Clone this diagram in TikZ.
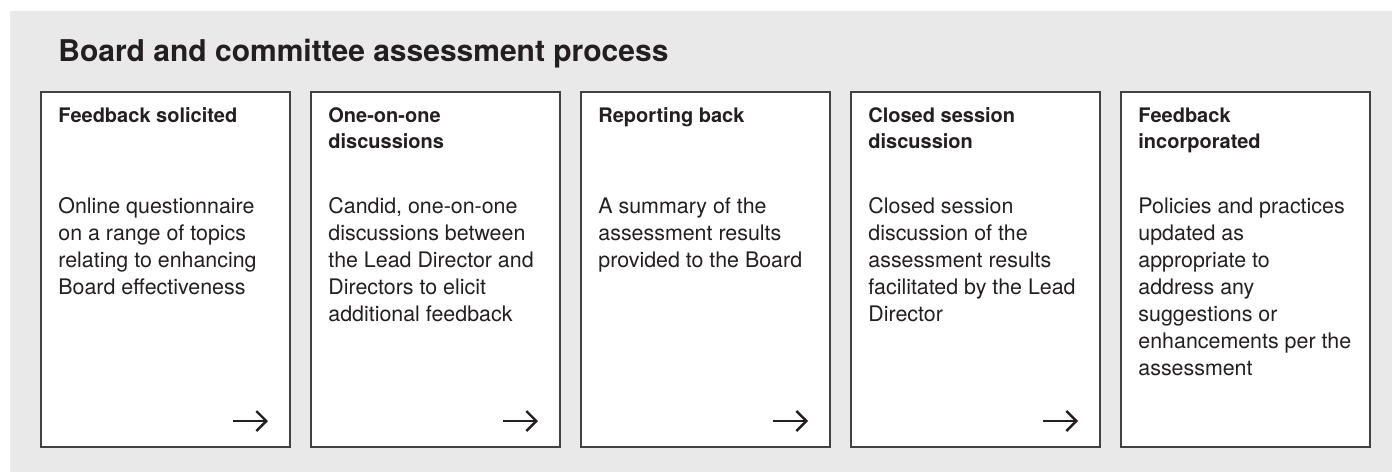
\documentclass[tikz,border=0pt]{standalone}
\usepackage{fontspec}
\setmainfont{TeX Gyre Heros}
\usetikzlibrary{arrows.meta,positioning}
\definecolor{panelgray}{HTML}{E8E9E8}
\definecolor{ink}{HTML}{231F20}
\tikzset{%
  % Specifications for style of the step cards:
      card/.style = {draw=ink!85, line width=0.8pt, fill=white,
                     minimum width=124.5pt, minimum height=177.5pt,
                     anchor=north west, inner sep=0pt, outer sep=0pt},
  cardhead/.style = {anchor=north west, align=left, inner sep=0pt, text=ink,
                     font=\bfseries\fontsize{10}{13}\selectfont},
  cardbody/.style = {anchor=north west, align=left, inner sep=0pt, text=ink,
                     font=\fontsize{10.7}{13.5}\selectfont},
       pil/.style = {-{Straight Barb[length=5pt,width=10pt]},
                     line width=1.2pt, draw=ink}
}

\begin{document}
\begin{tikzpicture}[node distance=10.5pt]

% panel
\useasboundingbox (0,0) rectangle (696pt,-236pt);
\fill[panelgray] (5pt,-5.5pt) rectangle (696pt,-236pt);

\node (title) [anchor=base west, inner sep=0pt, text=ink,
  font=\bfseries\fontsize{15}{17}\selectfont] at (29pt,-30.5pt)
  {Board and committee assessment process};

\node (solicited)	[card] at (20.5pt,-46pt) {};
\node (oneonone)	[card,right=of solicited] {};
\node (reporting)	[card,right=of oneonone] {};
\node (closed)	[card,right=of reporting] {};
\node (incorp)	[card,right=of closed] {};

% headings
\node (solicitedH) [cardhead] at ([shift={(8.5pt,-7.7pt)}]solicited.north west) {Feedback solicited};
\node (oneononeH) [cardhead] at ([shift={(8.5pt,-7.7pt)}]oneonone.north west) {One-on-one\\discussions};
\node (reportingH) [cardhead] at ([shift={(8.5pt,-7.7pt)}]reporting.north west) {Reporting back};
\node (closedH) [cardhead] at ([shift={(8.5pt,-7.7pt)}]closed.north west) {Closed session\\discussion};
\node (incorpH) [cardhead] at ([shift={(8.5pt,-7.7pt)}]incorp.north west) {Feedback\\incorporated};

% descriptions
\node (solicitedB) [cardbody] at ([shift={(8.5pt,-52.7pt)}]solicited.north west)
  {Online questionnaire\\on a range of topics\\relating to enhancing\\Board effectiveness};
\node (oneononeB) [cardbody] at ([shift={(8.5pt,-52.7pt)}]oneonone.north west)
  {Candid, one-on-one\\discussions between\\the Lead Director and\\Directors to elicit\\additional feedback};
\node (reportingB) [cardbody] at ([shift={(8.5pt,-52.7pt)}]reporting.north west)
  {A summary of the\\assessment results\\provided to the Board};
\node (closedB) [cardbody] at ([shift={(8.5pt,-52.7pt)}]closed.north west)
  {Closed session\\discussion of the\\assessment results\\facilitated by the Lead\\Director};
\node (incorpB) [cardbody] at ([shift={(8.5pt,-52.7pt)}]incorp.north west)
  {Policies and practices\\updated as\\appropriate to\\address any\\suggestions or\\enhancements per the\\assessment};

% arrows to the next step
\coordinate (solicitedA) at ([shift={(-28.5pt,13pt)}]solicited.south east);
\coordinate (oneononeA) at ([shift={(-28.5pt,13pt)}]oneonone.south east);
\coordinate (reportingA) at ([shift={(-28.5pt,13pt)}]reporting.south east);
\coordinate (closedA) at ([shift={(-28.5pt,13pt)}]closed.south east);
\draw[pil] (solicitedA) -- ++(17.5pt,0);
\draw[pil] (oneononeA) -- ++(17.5pt,0);
\draw[pil] (reportingA) -- ++(17.5pt,0);
\draw[pil] (closedA) -- ++(17.5pt,0);

\end{tikzpicture}
\end{document}
